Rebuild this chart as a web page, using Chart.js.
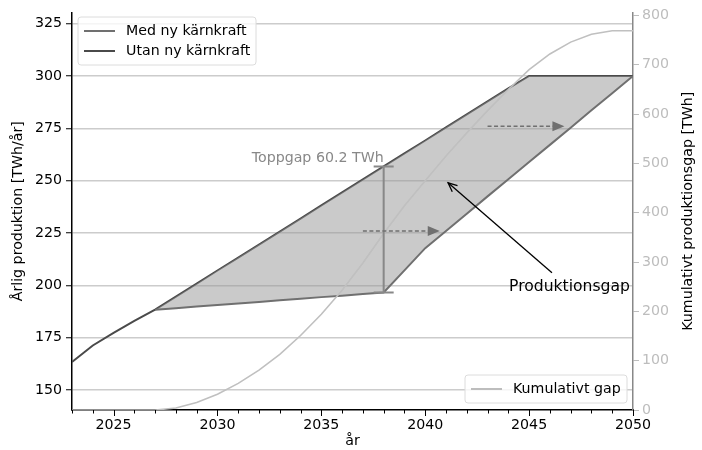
<!DOCTYPE html>
<html>
<head>
<meta charset="utf-8">
<script src="https://cdn.jsdelivr.net/npm/chart.js@4"></script>
<style>
  body { margin: 0; background: #fff; }
  #wrap { width: 702px; height: 450px; }
</style>
</head>
<body>
<div id="wrap"><canvas id="chart" width="702" height="450"></canvas></div>
<script>
// data
const years = [2023, 2024, 2025, 2026, 2027, 2028, 2029, 2030, 2031, 2032, 2033, 2034, 2035, 2036,
  2037, 2038, 2039, 2040, 2041, 2042, 2043, 2044, 2045, 2046, 2047, 2048, 2049, 2050];
const utanNy = [163.4, 171.3, 177.3, 183.0, 188.4, 194.6, 200.8, 207.1, 213.3, 219.5, 225.7, 231.9, 238.2, 244.4,
  250.6, 256.8, 263.0, 269.2, 275.5, 281.7, 287.9, 294.1, 300, 300, 300, 300, 300, 300];
const medYears = [2027, 2028, 2029, 2030, 2031, 2032, 2033, 2034, 2035, 2036, 2037, 2038, 2039, 2040,
  2041, 2042, 2043, 2044, 2045, 2046, 2047, 2048, 2049, 2050];
const medNy = [188.4, 189.1, 189.9, 190.6, 191.4, 192.1, 192.9, 193.6, 194.4, 195.1, 195.9, 196.6, 207.2, 217.8,
  226.0, 234.2, 242.5, 250.7, 258.9, 267.1, 275.3, 283.6, 291.8, 300];
const kumGap = [0, 0, 0, 0, 0, 4, 15, 32, 54, 81, 113, 151, 194, 243, 298, 358, 414, 465, 515, 562, 607, 650,
  690, 722, 746, 762, 769, 769];
const leftTicks = [150, 175, 200, 225, 250, 275, 300, 325];
const rightTicks = [0, 100, 200, 300, 400, 500, 600, 700, 800];

const topGapYear = 2038, topGapLow = 196.6, topGapHigh = 256.8;
const shiftArrows = [[2037, 226, 2040.7], [2043, 276, 2046.7]];
const gapArrow = { from: [2046.1, 206], to: [2041.1, 249] };

const FONT = 'DejaVu Sans';
const FS = 14.2;
const pts = (xs, ys) => xs.map((x, i) => ({ x: x, y: ys[i] }));

function arrowHead(ctx, x, y, ang, len, wid, filled) {
  ctx.beginPath();
  ctx.moveTo(x - len * Math.cos(ang) - wid * Math.sin(ang), y - len * Math.sin(ang) + wid * Math.cos(ang));
  ctx.lineTo(x, y);
  ctx.lineTo(x - len * Math.cos(ang) + wid * Math.sin(ang), y - len * Math.sin(ang) - wid * Math.cos(ang));
  if (filled) { ctx.closePath(); ctx.fill(); } else ctx.stroke();
}

const extras = {
  id: 'extras',
  afterDatasetsDraw(chart) {
    const ctx = chart.ctx, xs = chart.scales.x, ys = chart.scales.y;
    ctx.save();
    // Toppgap bar
    const gx = xs.getPixelForValue(topGapYear);
    const y1 = ys.getPixelForValue(topGapLow), y2 = ys.getPixelForValue(topGapHigh);
    ctx.strokeStyle = '#888'; ctx.lineWidth = 2;
    ctx.beginPath();
    ctx.moveTo(gx, y1); ctx.lineTo(gx, y2);
    ctx.moveTo(gx - 10, y1); ctx.lineTo(gx + 10, y1);
    ctx.moveTo(gx - 10, y2); ctx.lineTo(gx + 10, y2);
    ctx.stroke();
    ctx.fillStyle = '#888'; ctx.font = FS + 'px ' + FONT;
    ctx.textAlign = 'right'; ctx.textBaseline = 'bottom';
    ctx.fillText('Toppgap ' + (topGapHigh - topGapLow).toFixed(1) + ' TWh', gx, y2 - 1);

    // dashed shift arrows
    ctx.strokeStyle = '#707070'; ctx.fillStyle = '#707070'; ctx.lineWidth = 1.6;
    shiftArrows.forEach(a => {
      const xa = xs.getPixelForValue(a[0]), xb = xs.getPixelForValue(a[2]), y = ys.getPixelForValue(a[1]);
      ctx.setLineDash([4, 2.5]);
      ctx.beginPath(); ctx.moveTo(xa, y); ctx.lineTo(xb - 8, y); ctx.stroke();
      ctx.setLineDash([]);
      arrowHead(ctx, xb, y, 0, 12, 5, true);
    });

    // Produktionsgap annotation
    const fx = xs.getPixelForValue(gapArrow.from[0]), fy = ys.getPixelForValue(gapArrow.from[1]);
    const tx = xs.getPixelForValue(gapArrow.to[0]), ty = ys.getPixelForValue(gapArrow.to[1]);
    ctx.strokeStyle = '#000'; ctx.lineWidth = 1.3;
    ctx.beginPath(); ctx.moveTo(fx, fy); ctx.lineTo(tx, ty); ctx.stroke();
    arrowHead(ctx, tx, ty, Math.atan2(ty - fy, tx - fx), 9, 4, false);
    ctx.fillStyle = '#000'; ctx.font = '15.6px ' + FONT;
    ctx.textAlign = 'left'; ctx.textBaseline = 'middle';
    ctx.fillText('Produktionsgap', 509, 287);

    // legends
    const legend = (x, y, w, items) => {
      const h = items.length * 20 + 8;
      ctx.fillStyle = 'rgba(255,255,255,0.8)'; ctx.strokeStyle = '#dcdcdc'; ctx.lineWidth = 1;
      ctx.beginPath(); ctx.roundRect(x, y, w, h, 3); ctx.fill(); ctx.stroke();
      items.forEach((it, i) => {
        const ly = y + 14 + i * 20;
        ctx.strokeStyle = it[1]; ctx.lineWidth = 2;
        ctx.beginPath(); ctx.moveTo(x + 6, ly); ctx.lineTo(x + 37, ly); ctx.stroke();
        ctx.fillStyle = '#000'; ctx.font = FS + 'px ' + FONT;
        ctx.textAlign = 'left'; ctx.textBaseline = 'middle';
        ctx.fillText(it[0], x + 48, ly);
      });
    };
    legend(78, 17, 178, [['Med ny kärnkraft', '#707070'], ['Utan ny kärnkraft', '#4a4a4a']]);
    legend(465, 375, 162, [['Kumulativt gap', '#bdbdbd']]);
    ctx.restore();
  },
  afterDraw(chart) {
    const ctx = chart.ctx, xs = chart.scales.x, area = chart.chartArea;
    ctx.save();
    // x ticks: long at every 5 years, short otherwise
    ctx.strokeStyle = '#000'; ctx.lineWidth = 1;
    years.forEach(v => {
      const px = Math.round(xs.getPixelForValue(v)) + 0.5;
      const len = v % 5 === 0 ? 6 : 3.5;
      ctx.beginPath(); ctx.moveTo(px, area.bottom); ctx.lineTo(px, area.bottom + len); ctx.stroke();
    });
    // right axis title, reading upwards
    ctx.translate(688, (area.top + area.bottom) / 2);
    ctx.rotate(-Math.PI / 2);
    ctx.fillStyle = '#000'; ctx.font = FS + 'px ' + FONT;
    ctx.textAlign = 'center'; ctx.textBaseline = 'middle';
    ctx.fillText('Kumulativt produktionsgap [TWh]', 0, 0);
    ctx.restore();
  }
};

const info = {
  datasets: [
    {
      label: 'Kumulativt gap',
      data: pts(years, kumGap),
      yAxisID: 'y2',
      borderColor: '#c0c0c0',
      borderWidth: 1.6,
      pointRadius: 0,
      fill: false,
      order: 0
    },
    {
      label: 'Med ny kärnkraft',
      data: pts(medYears, medNy),
      yAxisID: 'y',
      borderColor: '#707070',
      borderWidth: 2,
      pointRadius: 0,
      fill: { target: 2 },
      backgroundColor: 'rgba(150,150,150,0.5)',
      order: 1
    },
    {
      label: 'Utan ny kärnkraft',
      data: pts(years, utanNy),
      yAxisID: 'y',
      borderColor: '#4a4a4a',
      borderWidth: 2,
      pointRadius: 0,
      fill: false,
      order: 2
    }
  ]
};

const tickFont = { family: FONT, size: FS };
const options = {
  responsive: false,
  animation: false,
  layout: { padding: { top: 12, right: 0, left: 0, bottom: 0 } },
  plugins: { legend: { display: false }, tooltip: { enabled: false } },
  scales: {
    x: {
      type: 'linear', min: 2023, max: 2050,
      afterBuildTicks: s => { s.ticks = years.map(v => ({ value: v })); },
      ticks: {
        autoSkip: false, maxRotation: 0, color: '#000', font: tickFont, padding: 7,
        callback: v => (v % 5 === 0 ? String(v) : '')
      },
      grid: { drawOnChartArea: false, drawTicks: false },
      border: { color: '#000', width: 1.5 },
      title: { display: true, text: 'år', color: '#000', font: { family: FONT, size: FS }, padding: { top: 0, bottom: 0 } },
      afterFit: s => { s.height = 40; }
    },
    y: {
      position: 'left', min: 140.5, max: 330.3,
      afterBuildTicks: s => { s.ticks = leftTicks.map(v => ({ value: v })); },
      ticks: { color: '#000', font: tickFont, padding: 4 },
      grid: { color: '#cccccc', lineWidth: 1.5, tickLength: 6, tickColor: '#000', tickWidth: 1 },
      border: { color: '#000', width: 1.5 },
      title: { display: true, text: 'Årlig produktion [TWh/år]', color: '#000', font: { family: FONT, size: FS }, padding: { top: 10, bottom: 4 } },
      afterFit: s => { s.width = 72; }
    },
    y2: {
      position: 'right', min: 0, max: 806,
      afterBuildTicks: s => { s.ticks = rightTicks.map(v => ({ value: v })); },
      ticks: { color: '#bdbdbd', font: tickFont, padding: 3 },
      grid: { drawOnChartArea: false, tickLength: 6, tickColor: '#bdbdbd', tickWidth: 1 },
      border: { color: '#888', width: 1.5 },
      afterFit: s => { s.width = 69; }
    }
  }
};

const chart = new Chart(document.getElementById('chart'), {
  type: 'line',
  data: info,
  options,
  plugins: [extras]
});
</script>
</body>
</html>
